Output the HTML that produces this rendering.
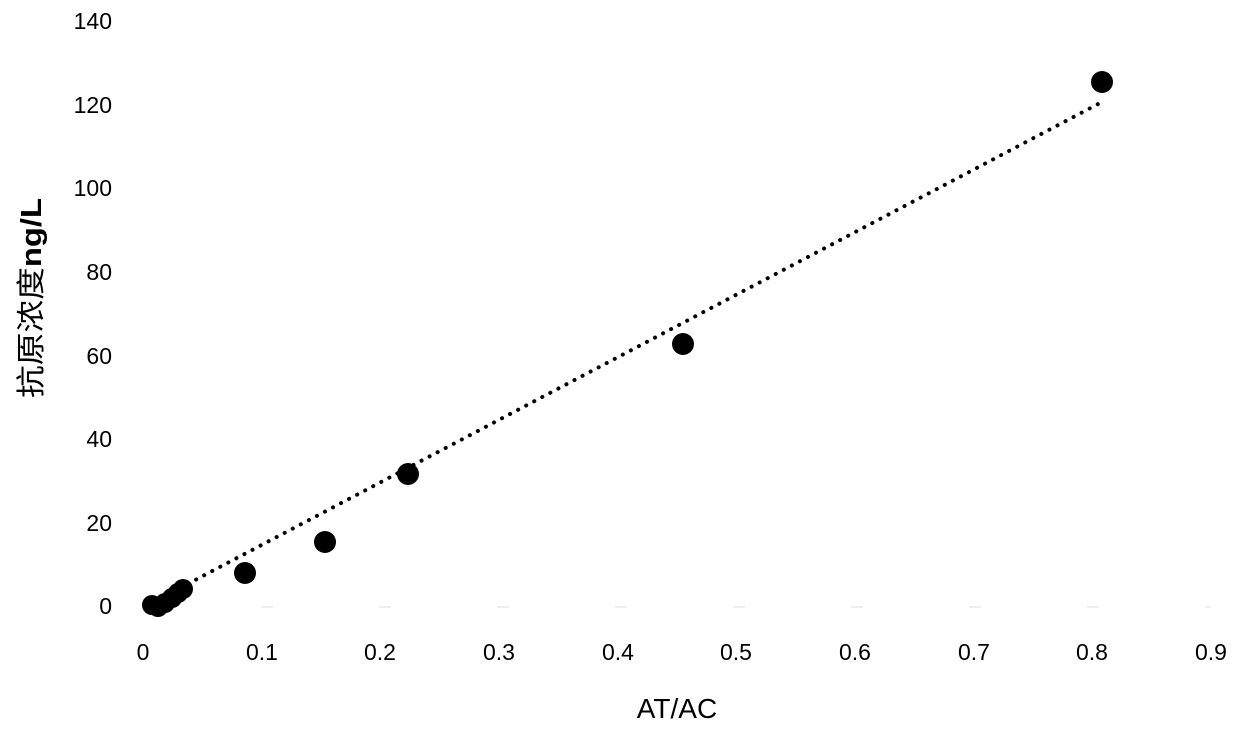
<!DOCTYPE html>
<html><head><meta charset="utf-8"><style>
body{margin:0;background:#fff}
svg text{font-family:"Liberation Sans","Noto Sans CJK SC",sans-serif;fill:#000}
</style></head><body>
<svg width="1240" height="731" xmlns="http://www.w3.org/2000/svg">
<g stroke="#ddd" stroke-width="1">
<line x1="143" y1="607" x2="1211" y2="607" stroke-dasharray="12 106"/>
</g>
<g font-size="23" text-anchor="end">
<text x="112" y="29">140</text>
<text x="112" y="113">120</text>
<text x="112" y="196">100</text>
<text x="112" y="280">80</text>
<text x="112" y="364">60</text>
<text x="112" y="447">40</text>
<text x="112" y="531">20</text>
<text x="112" y="614">0</text>
</g>
<g font-size="23" text-anchor="middle">
<text x="143" y="660">0</text>
<text x="262" y="660">0.1</text>
<text x="380" y="660">0.2</text>
<text x="499" y="660">0.3</text>
<text x="618" y="660">0.4</text>
<text x="736" y="660">0.5</text>
<text x="855" y="660">0.6</text>
<text x="974" y="660">0.7</text>
<text x="1092" y="660">0.8</text>
<text x="1211" y="660">0.9</text>
</g>
<text x="677" y="718" font-size="28" text-anchor="middle">AT/AC</text>
<text transform="translate(41,298) rotate(-90)" font-size="29" text-anchor="middle" textLength="200" lengthAdjust="spacingAndGlyphs">抗原浓度<tspan font-weight="bold">ng/L</tspan></text>
<line x1="180" y1="588" x2="1100" y2="103" stroke="#000" stroke-width="4" stroke-dasharray="0.1 9" stroke-linecap="round"/>
<g fill="#000">
<circle cx="152" cy="605" r="10"/>
<circle cx="158" cy="607" r="10"/>
<circle cx="165" cy="603" r="10"/>
<circle cx="172" cy="598" r="10"/>
<circle cx="178" cy="593" r="10"/>
<circle cx="183" cy="589" r="10"/>
<circle cx="245" cy="573" r="11"/>
<circle cx="325" cy="542" r="11"/>
<circle cx="408" cy="474" r="11"/>
<circle cx="683" cy="344" r="11"/>
<circle cx="1102" cy="82" r="11"/>
</g>
</svg>
</body></html>
